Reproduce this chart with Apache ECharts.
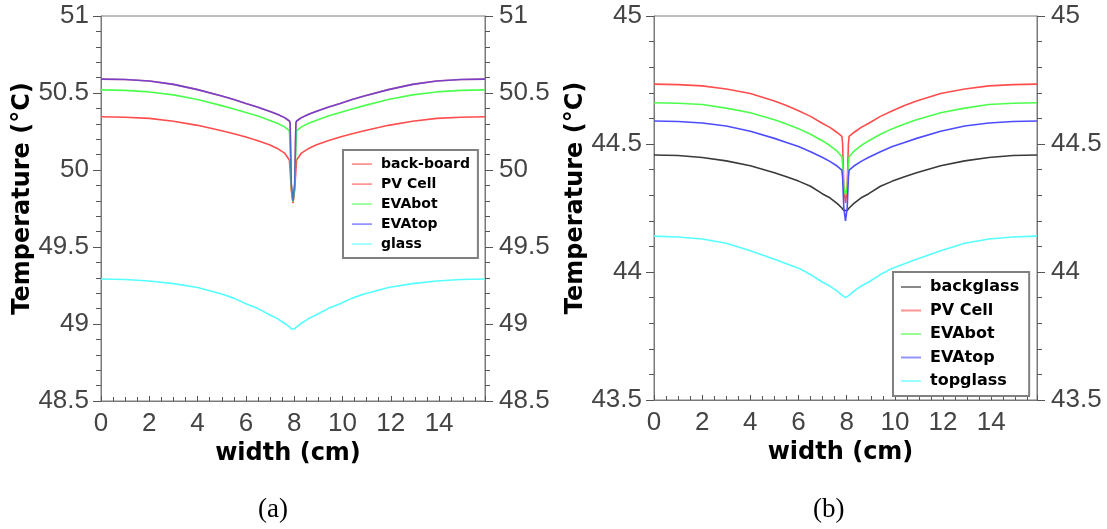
<!DOCTYPE html>
<html><head><meta charset="utf-8">
<script src="https://cdn.jsdelivr.net/npm/echarts@6/dist/echarts.min.js"></script>
<style>html,body{margin:0;padding:0;background:#fff}#c{width:1107px;height:529px}</style>
</head><body><div id="c"></div>
<script>
const widthCm = [0,1,2,3,4,5,5.5,6,6.5,7,7.3,7.6,7.8,7.83,7.88,7.95,8.02,8.07,8.1,8.3,8.6,8.9,9.4,9.9,10.4,10.9,11.9,12.9,13.9,14.9,15.9];

// panel (a)
const aBackBoard = [50.346,50.343,50.335,50.317,50.290,50.255,50.236,50.214,50.190,50.162,50.140,50.110,50.065,50.000,49.870,49.785,49.870,50.000,50.065,50.110,50.140,50.162,50.190,50.214,50.236,50.255,50.290,50.317,50.335,50.343,50.346];
const aPVCell    = [50.590,50.588,50.578,50.556,50.522,50.480,50.458,50.432,50.408,50.380,50.362,50.340,50.318,50.305,49.900,49.790,49.900,50.305,50.318,50.340,50.362,50.380,50.408,50.432,50.458,50.480,50.522,50.556,50.578,50.588,50.590];
const aEVAbot    = [50.520,50.517,50.507,50.488,50.458,50.418,50.396,50.374,50.350,50.322,50.303,50.280,50.255,50.150,49.890,49.795,49.890,50.150,50.255,50.280,50.303,50.322,50.350,50.374,50.396,50.418,50.458,50.488,50.507,50.517,50.520];
const aEVAtop    = [50.590,50.588,50.578,50.556,50.522,50.480,50.458,50.432,50.408,50.380,50.362,50.340,50.318,50.305,49.910,49.800,49.910,50.305,50.318,50.340,50.362,50.380,50.408,50.432,50.458,50.480,50.522,50.556,50.578,50.588,50.590];
const aGlass     = [49.292,49.289,49.279,49.262,49.237,49.195,49.168,49.132,49.100,49.058,49.035,49.005,48.982,48.977,48.968,48.958,48.968,48.977,48.982,49.005,49.035,49.058,49.100,49.132,49.168,49.195,49.237,49.262,49.279,49.289,49.292];

// panel (b)
const bBackglass = [44.457,44.455,44.447,44.434,44.415,44.388,44.372,44.355,44.335,44.305,44.290,44.268,44.250,44.246,44.240,44.235,44.240,44.246,44.250,44.268,44.290,44.305,44.335,44.355,44.372,44.388,44.415,44.434,44.447,44.455,44.457];
const bPVCell    = [44.734,44.732,44.727,44.715,44.697,44.668,44.650,44.630,44.608,44.580,44.565,44.545,44.530,44.500,44.330,44.270,44.330,44.500,44.530,44.545,44.565,44.580,44.608,44.630,44.650,44.668,44.697,44.715,44.727,44.732,44.734];
const bEVAbot    = [44.661,44.659,44.654,44.640,44.622,44.595,44.578,44.560,44.538,44.512,44.494,44.472,44.450,44.420,44.330,44.300,44.330,44.420,44.450,44.472,44.494,44.512,44.538,44.560,44.578,44.595,44.622,44.640,44.654,44.659,44.661];
const bEVAtop    = [44.590,44.588,44.582,44.570,44.550,44.522,44.506,44.490,44.470,44.447,44.432,44.414,44.398,44.370,44.250,44.200,44.250,44.370,44.398,44.414,44.432,44.447,44.470,44.490,44.506,44.522,44.550,44.570,44.582,44.588,44.590];
const bTopglass  = [44.140,44.137,44.129,44.112,44.083,44.050,44.032,44.015,43.990,43.960,43.945,43.925,43.910,43.907,43.903,43.900,43.903,43.907,43.910,43.925,43.945,43.960,43.990,44.015,44.032,44.050,44.083,44.112,44.129,44.137,44.140];

const xTitle = 'width (cm)';
const yTitle = 'Temperature (°C)';
const namesA = ['back-board','PV Cell','EVAbot','EVAtop','glass'];
const namesB = ['backglass','PV Cell','EVAbot','EVAtop','topglass'];

const RED='#ff4d4d', GREEN='#4dff4d', BLUE='#4d4dff', CYAN='#55ffff', BLACK='#3a3a3a';
const pts = arr => widthCm.map((x,i)=>[x,arr[i]]);

const labelFont = {fontFamily:'Liberation Sans', fontSize:26, color:'#444'};
const titleFont = {fontFamily:'DejaVu Sans', fontSize:24, fontWeight:'bold', color:'#000'};
const lineIcon = 'path://M0,0 L0.01,0 Z M0,7 L20,7 L20,9 L0,9 Z M0,16 L0.01,16 Z';

function xAxis(gi){
  return {type:'value', gridIndex:gi, min:0, max:15.9, interval:2,
    name:xTitle, nameLocation:'middle', nameGap:40, nameTextStyle:Object.assign({padding:[0,10,0,0]},titleFont),
    axisLine:{show:true,lineStyle:{color:'#7a7a7a',width:1}},
    axisTick:{show:true,inside:true,length:5,lineStyle:{color:'#555'}},
    minorTick:{show:true,splitNumber:4,length:4,lineStyle:{color:'#555'}},
    axisLabel:Object.assign({margin:10,showMaxLabel:false},labelFont),
    splitLine:{show:false}};
}
function yAxes(gi,min,max){
  const common = {type:'value', gridIndex:gi, min:min, max:max, interval:0.5,
    axisLine:{show:true,lineStyle:{color:'#7a7a7a',width:1}},
    axisTick:{show:true,inside:false,length:8,lineStyle:{color:'#555'}},
    minorTick:{show:true,splitNumber:5,length:5,lineStyle:{color:'#555'}},
    splitLine:{show:false}};
  return [
    Object.assign({}, common, {position:'left', name:yTitle, nameLocation:'middle', nameGap:58,
      nameTextStyle:Object.assign({padding:[0,0,0,20]},titleFont),
      axisLabel:Object.assign({margin:12},labelFont)}),
    Object.assign({}, common, {position:'right', axisLabel:Object.assign({margin:14},labelFont)})
  ];
}
function ser(name, data, color, xi, yi, extra){
  return Object.assign({type:'line', name:name, data:pts(data), xAxisIndex:xi, yAxisIndex:yi,
    showSymbol:false, symbol:'none', smooth:false, color:color,
    lineStyle:{width:1.6, color:color}, animation:false}, extra||{});
}
function legendItems(names, colors){
  return names.map((n,i)=>({name:n, icon:lineIcon, itemStyle:{color:colors[i], opacity:0.6, borderWidth:0}}));
}

const chart = echarts.init(document.getElementById('c'), null, {renderer:'canvas'});
chart.setOption({
  backgroundColor:'#fff',
  animation:false,
  grid:[
    {left:101, top:16, width:384, height:385, show:true, borderColor:'#7a7a7a', borderWidth:1, backgroundColor:'transparent'},
    {left:654, top:16, width:383, height:384, show:true, borderColor:'#7a7a7a', borderWidth:1, backgroundColor:'transparent'}
  ],
  xAxis:[xAxis(0), xAxis(1)],
  yAxis:[...yAxes(0,48.5,51), ...yAxes(1,43.5,45)],
  legend:[
    {data:legendItems(namesA,[RED,RED,GREEN,BLUE,CYAN]), orient:'vertical', left:343, top:150, padding:[7,8,7,9],
     itemWidth:20, itemHeight:14, itemGap:6, borderColor:'#808080', borderWidth:2, symbolKeepAspect:false,
     selectedMode:false,
     textStyle:{fontFamily:'DejaVu Sans', fontWeight:'bold', fontSize:14, color:'#000', padding:[0,0,0,4]}},
    {data:legendItems(namesB,[BLACK,RED,GREEN,BLUE,CYAN]), orient:'vertical', left:893, top:272, padding:[7,10,7,8],
     itemWidth:20, itemHeight:16, itemGap:7.5, borderColor:'#808080', borderWidth:2, symbolKeepAspect:false,
     selectedMode:false,
     textStyle:{fontFamily:'DejaVu Sans', fontWeight:'bold', fontSize:16, color:'#000', padding:[0,0,0,4]}}
  ],
  series:[
    ser(namesA[0], aBackBoard, RED, 0, 0),
    ser(namesA[1], aPVCell, RED, 0, 0),
    ser(namesA[2], aEVAbot, GREEN, 0, 0),
    ser(namesA[3], aEVAtop, BLUE, 0, 0, {lineStyle:{width:1.6, color:'rgba(60,60,255,0.7)'}}),
    ser(namesA[4], aGlass, CYAN, 0, 0),
    ser(namesB[0], bBackglass, BLACK, 1, 2),
    ser(namesB[1], bPVCell, RED, 1, 2),
    ser(namesB[2], bEVAbot, GREEN, 1, 2),
    ser(namesB[3], bEVAtop, BLUE, 1, 2),
    ser(namesB[4], bTopglass, CYAN, 1, 2)
  ],
  graphic:[
    {type:'text', left:258, top:496, style:{text:'(a)', font:'27px "Liberation Serif"', fill:'#000'}},
    {type:'text', left:813, top:496, style:{text:'(b)', font:'27px "Liberation Serif"', fill:'#000'}}
  ]
});
</script>
</body></html>
